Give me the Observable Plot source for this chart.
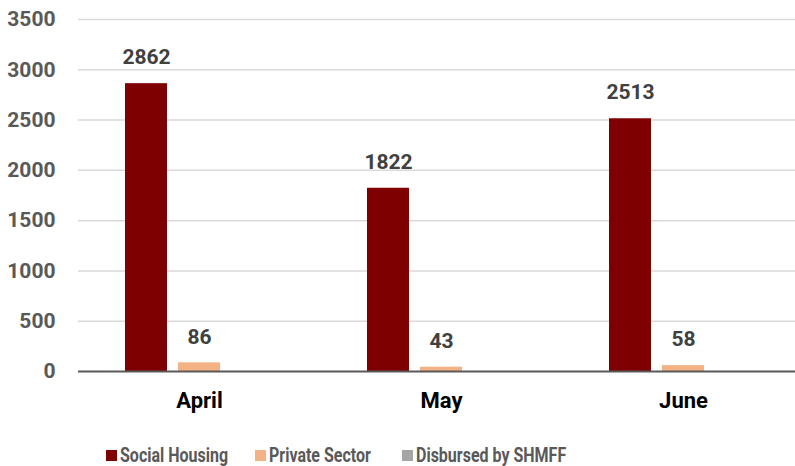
<!DOCTYPE html>
<html>
<head>
<meta charset="utf-8">
<script src="https://cdn.jsdelivr.net/npm/d3@7"></script>
<script src="https://cdn.jsdelivr.net/npm/@observablehq/plot@0.6"></script>
<style>
  html, body { margin: 0; padding: 0; background: #fff; overflow: hidden; width: 795px; height: 466px; }
  #chart { position: absolute; left: 0; top: 0; width: 804px; }
  #chart svg { max-width: none !important; width: 804px !important; height: 430px !important; }
  .legend { position: absolute; top: 443px; left: 0; width: 795px; height: 24px; font-family: Roboto, "Liberation Sans", sans-serif; font-weight: bold; font-size: 20px; color: #595959; }
  .legend .sw { position: absolute; top: 7px; width: 11px; height: 11px; }
  .legend .lbl { position: absolute; top: 0; white-space: nowrap; line-height: 24px; transform: scaleX(0.8); transform-origin: 0 50%; }
</style>
</head>
<body>
<div id="chart"></div>
<div class="legend" id="legend"></div>
<script>
const months = ["April", "May", "June"];
const seriesNames = ["Social Housing", "Private Sector", "Disbursed by SHMFF"];
const socialHousing = [2862, 1822, 2513];
const privateSector = [86, 43, 58];
const disbursedBySHMFF = [0, 0, 0];
const seriesColors = ["#7F0000", "#F4B183", "#A5A5A5"];
const yTicks = [0, 500, 1000, 1500, 2000, 2500, 3000, 3500];

const seriesValues = [socialHousing, privateSector, disbursedBySHMFF];
const data = [];
months.forEach((m, i) => {
  seriesNames.forEach((s, j) => {
    data.push({month: m, series: s, value: seriesValues[j][i]});
  });
});

const font = 'Roboto, "Liberation Sans", sans-serif';

const chart = Plot.plot({
  width: 804,
  height: 430,
  marginLeft: 78,
  marginRight: 0,
  marginTop: 19,
  marginBottom: 59,
  style: {fontFamily: font, fontWeight: "bold", background: "#fff"},
  fx: {domain: months, padding: 0, label: null},
  x: {domain: seriesNames, paddingInner: 0.21, paddingOuter: 0.87, axis: null},
  y: {domain: [0, 3500], ticks: yTicks, label: null},
  color: {domain: seriesNames, range: seriesColors},
  marks: [
    Plot.gridY(yTicks.filter(d => d > 0), {stroke: "#D9D9D9", strokeOpacity: 1, strokeWidth: 1.5, facetAnchor: null}),
    Plot.axisY({ticks: yTicks, tickFormat: d => String(d), tickSize: 0, tickPadding: 23, fontSize: 21, fill: "#595959", label: null}),
    Plot.axisFx({anchor: "bottom", tickSize: 0, tickPadding: 21, fontSize: 22, fill: "#000", label: null}),
    Plot.barY(data, {fx: "month", x: "series", y: "value", fill: "series"}),
    Plot.ruleY([0], {stroke: "#595959", strokeWidth: 2, facetAnchor: null}),
    Plot.text(data.filter(d => d.value > 0), {fx: "month", x: "series", y: "value", text: d => String(d.value), dy: -26, fontSize: 21, fill: "#404040", fontWeight: "bold"})
  ]
});
document.getElementById("chart").appendChild(chart);

const legendPos = [106, 255, 402];
const leg = document.getElementById("legend");
seriesNames.forEach((s, i) => {
  const sw = document.createElement("span");
  sw.className = "sw";
  sw.style.left = legendPos[i] + "px";
  sw.style.background = seriesColors[i];
  leg.appendChild(sw);
  const lbl = document.createElement("span");
  lbl.className = "lbl";
  lbl.style.left = (legendPos[i] + 14) + "px";
  lbl.textContent = s;
  leg.appendChild(lbl);
});
</script>
</body>
</html>
